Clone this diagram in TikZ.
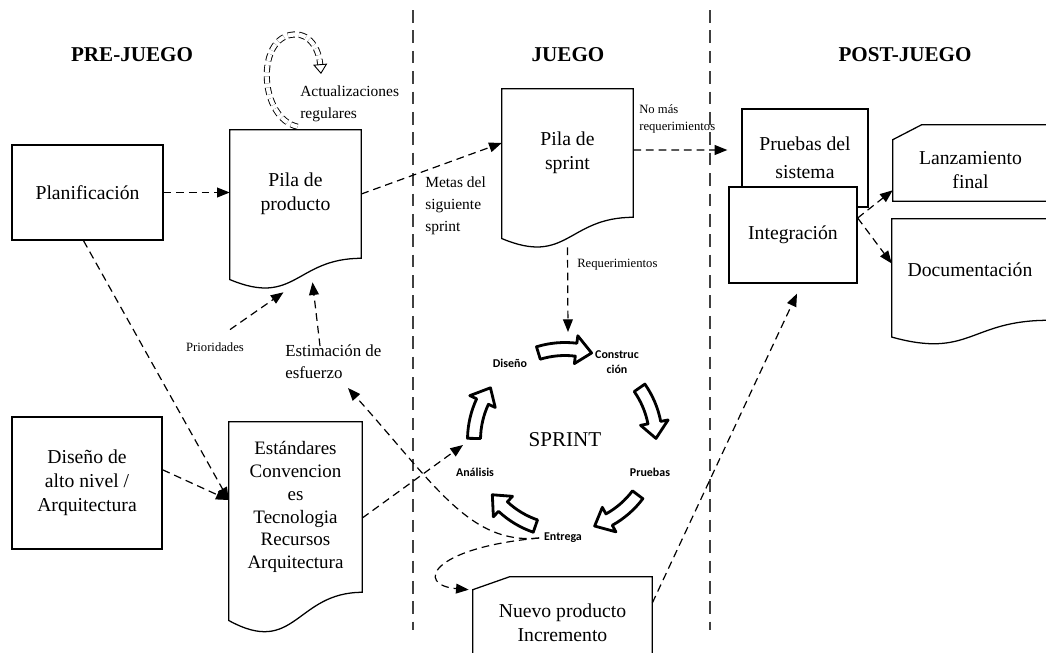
\documentclass[tikz,border=0pt]{standalone}
\usepackage{fontspec}
\setmainfont{Liberation Serif}
\newfontfamily\stepfont{Carlito}
\usetikzlibrary{arrows.meta, positioning, calc}

\newcommand\bigtxt{\fontsize{14}{17}\selectfont}
\newcommand\lbltxt{\fontsize{11}{15.5}\selectfont}
\newcommand\smalltxt{\fontsize{9}{12.5}\selectfont}
\newcommand\phasetxt{\fontsize{15}{18}\selectfont\bfseries}
\newcommand\steptxt{\stepfont\fontsize{8.5}{10.5}\selectfont\bfseries}

% document shape: the node is the square part, the wave hangs below it
\newcommand\docshape[1]{%
  \draw[line width=0.9pt] (#1.north west) -- (#1.north east) -- (#1.south east)
    .. controls (#1.south) and ($(#1.south)!-0.38!(#1.north)$)
    .. ($(#1.south west)!-0.165!(#1.north west)$) -- cycle;}
% card with the top left corner cut off
\newcommand\cardshape[3]{%
  \draw[line width=0.9pt] (#1.north west) -- ($(#1.north west)+(#2,-#3)$)
    -- ($(#1.north east)+(0,-#3)$) -- (#1.south east) -- (#1.south west) -- cycle;}

\begin{document}
\begin{tikzpicture}[x=0.025cm, y=-0.025cm,
  box/.style={draw, line width=0.9pt, fill=white, align=center, inner sep=0pt, font=\bigtxt},
  doc/.style={align=center, inner sep=0pt, font=\bigtxt},
  flow/.style={line width=0.85pt, dash pattern=on 5.5pt off 3.5pt, -{Triangle[length=9pt, width=7pt]}},
  lbl/.style={inner sep=0pt, align=left}]
\useasboundingbox (0,0) rectangle (1046,652);

% phase dividers
\draw[line width=0.8pt, black!75, dash pattern=on 9pt off 5.5pt] (413,10) -- (413,630) (710,10) -- (710,630);

\node[font=\phasetxt] (pre) at (132,55) {PRE-JUEGO};
\node[font=\phasetxt] (game) at (568,55) {JUEGO};
\node[font=\phasetxt] (post) at (905,55) {POST-JUEGO};

% pre-juego
\node[box, minimum width=3.775cm, minimum height=2.375cm] (plan) at (87.5,192.5) {Planificación};
\node[box, minimum width=3.75cm, minimum height=3.3cm] (hld) at (87,483) {Diseño de\\alto nivel /\\Arquitectura};
\node[doc, minimum width=3.275cm, minimum height=3.2cm] (prodpila) at (295.5,194) {Pila de\\producto};
\docshape{prodpila}
\node[doc, minimum width=3.325cm, minimum height=4.25cm, font=\fontsize{13.5}{16.3}\selectfont] (stds) at (295.5,507)
  {Estándares\\Convencion\\es\\Tecnologia\\Recursos\\Arquitectura};
\docshape{stds}

\node[lbl, font=\lbltxt, anchor=west] (updates) at (300,103.5) {Actualizaciones\\regulares};
\node[font=\smalltxt] (prior) at (215,347) {Prioridades};
\node[lbl, font=\fontsize{12}{16}\selectfont, anchor=west] (estim) at (285,361.5) {Estimación de\\esfuerzo};

% juego
\node[doc, minimum width=3.275cm, minimum height=3.2cm] (sprintpila) at (567.5,153) {Pila de\\sprint};
\docshape{sprintpila}
\node[lbl, font=\lbltxt, anchor=west] (goals) at (425,205.5) {Metas del\\siguiente\\sprint};
\node[lbl, font=\smalltxt, anchor=west] (nomore) at (639,119) {No más\\requerimientos};
\node[lbl, font=\smalltxt, anchor=west] (reqs) at (577,265) {Requerimientos};

\begin{scope}[shift={(565,440)}, yscale=-1]
  \foreach \c in {90,18,-54,-126,162}
    \draw[line width=2pt, line join=round, fill=white]
      ({\c+17}:97.5) arc[start angle=\c+17, end angle=\c-7, radius=97.5]
      -- ({\c-7}:105) -- ({\c-17}:91) -- ({\c-7}:77) -- ({\c-7}:84.5)
      arc[start angle=\c-7, end angle=\c+17, radius=84.5] -- cycle;
\end{scope}
\node[font=\fontsize{15}{18}\selectfont] (sprint) at (565,440) {SPRINT};
\node[font=\steptxt] (design) at (510,363) {Diseño};
\node[font=\steptxt, align=center] (build) at (617,362) {Construc\\ción};
\node[font=\steptxt] (tests) at (650,472) {Pruebas};
\node[font=\steptxt] (entrega) at (563,538) {Entrega};
\node[font=\steptxt] (analysis) at (475,472) {Análisis};
\coordinate (sprint-in) at (568,332);
\coordinate (anal-in) at (463,445);
\coordinate (esf-in) at (348,388);

\node[doc, minimum width=4.475cm, minimum height=1.65cm] (nuevo) at (562.5,623) {Nuevo producto\\Incremento};
\cardshape{nuevo}{37}{13}

% post-juego
\node[box, minimum width=3.15cm, minimum height=2.45cm, font=\fontsize{14}{20}\selectfont] (pruebas) at (805,158) {Pruebas del\\sistema};
\node[box, minimum width=3.2cm, minimum height=2.4cm] (integ) at (793,235) {Integración};
\node[doc, minimum width=3.875cm, minimum height=1.525cm] (lanz) at (970.5,170.5) {Lanzamiento\\final};
\cardshape{lanz}{29}{15}
\node[doc, minimum width=3.9cm, minimum height=2.525cm] (docum) at (970,269.5) {Documentación};
\docshape{docum}

% connectors
\coordinate (loop-end) at (321,74);
\draw[line width=0.65pt, double distance=3pt, dash pattern=on 5pt off 3pt, -{Triangle[open, length=7pt, width=10pt]}]
  ($(prodpila.north)+(2,-3)$) .. controls (260,118) and (256,42) .. (290,35)
  .. controls (310,31) and (319,50) .. (loop-end);
\draw[flow] (plan.east) -- (plan.east -| prodpila.west);
\draw[flow] ([xshift=-0.1cm]plan.south) -- ([yshift=0.175cm]stds.west);
\draw[flow] ([yshift=0.33cm]hld.east) -- ([yshift=0.175cm]stds.west);
\draw[flow] ($(prior.north)+(15,-8)$) -- ($(prodpila.south)+(-12,34)$);
\draw[flow] ($(estim.north west)+(35,2)$) -- ($(prodpila.south)+(17,24)$);
\draw[flow] (prodpila.east) -- ([yshift=0.25cm]sprintpila.west);
\draw[flow] ([yshift=0.075cm]sprintpila.east) -- ($(pruebas.west)+(-14,-8)$);
\draw[flow] ($(sprintpila.south)+(0,30)$) -- (sprint-in);
\draw[flow] ([yshift=-0.275cm]stds.east) -- (anal-in);
\draw[flow] (entrega.west) .. controls (470,545) and (435,485) .. (esf-in);
\draw[flow] (entrega.west) .. controls (430,548) and (415,585) .. ([xshift=-0.1cm]nuevo.north west);
\draw[flow] ([yshift=0.5cm]nuevo.east) -- ($(integ.south)+(4,10)$);
\draw[flow] ([yshift=0.425cm]integ.east) -- ([yshift=0.275cm]lanz.south west);
\draw[flow] ([yshift=0.425cm]integ.east) -- ([yshift=0.15cm]docum.west);
\end{tikzpicture}
\end{document}
